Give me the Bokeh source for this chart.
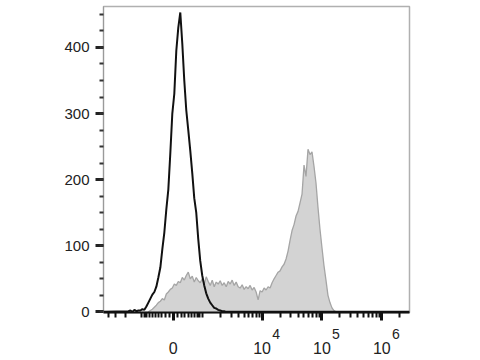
import numpy as np
from bokeh.plotting import figure
from bokeh.models import Range1d, FixedTicker, LinearAxis, SingleIntervalTicker
from bokeh.embed import file_html
from bokeh.resources import INLINE

# ---- biexponential (asinh) display scale: 1 display unit = 1 decade ----
LIN_WIDTH = 658.0
def biex(v):
    return np.round(np.arcsinh(np.asarray(v, dtype=float) / LIN_WIDTH) / np.log(10), 5)

# ---- data: histogram counts per display channel (30 channels / decade) ----
CH_STEP = 1.0 / 30.0
black_start = -0.75   # display position of first black bin
black_counts = [1, 2, 0, 3, 1, 2, 2, 4, 3, 8, 14, 20, 26, 30, 38, 52, 67, 95, 120, 155,
                185, 240, 300, 330, 395, 430, 453, 406, 350, 305, 275, 244, 210, 172, 150,
                110, 77, 55, 40, 28, 20, 14, 10, 6, 5, 3, 2, 1, 1, 0]

gray_start = -0.4167  # display position of first gray bin
gray_counts = [0, 2, 4, 7, 10, 14, 16, 20, 18, 27, 30, 34, 36, 42, 40, 46, 44, 52, 48, 55,
               60, 50, 54, 45, 52, 47, 44, 50, 42, 53, 46, 40, 48, 38, 45, 42, 47, 40, 44, 38,
               46, 42, 48, 40, 45, 38, 36, 41, 34, 38, 35, 40, 33, 37, 30, 18, 32, 30, 36, 33,
               38, 36, 44, 50, 55, 60, 62, 68, 72, 80, 92, 108, 123, 132, 145, 152, 165, 178,
               222, 205, 246, 238, 242, 220, 195, 158, 125, 97, 70, 48, 25, 14, 6, 2, 0, 0]

major_values = [0, 1e4, 1e5, 1e6]
major_labels = ["0", "10", "10", "10"]
major_exponents = ["", "4", "5", "6"]
minor_values = ([-4000, -3000, -2000, -1000]
                + [s * k * 100 for s in (-1, 1) for k in range(1, 10)]
                + [k * 1000 for k in range(2, 10)]
                + [k * 1e4 for k in range(2, 10)]
                + [k * 1e5 for k in range(2, 10)]
                + [2e6, 3e6])

x_min_val, x_max_val = -4800.0, 2.9e6
y_max = 462

# ---- build ----
bx = black_start + CH_STEP * np.arange(len(black_counts))
gx = gray_start + CH_STEP * np.arange(len(gray_counts))
x_lo, x_hi = float(biex(x_min_val)), float(biex(x_max_val))
bx_full = np.concatenate([[x_lo], bx, [x_hi]])
by_full = np.concatenate([[0], black_counts, [0]])

p = figure(width=480, height=360, output_backend="svg", toolbar_location=None,
           x_range=Range1d(x_lo, x_hi), y_range=Range1d(-1, y_max),
           x_axis_type=None, y_axis_type=None,
           min_border_left=103, min_border_right=71, min_border_top=6, min_border_bottom=48)
p.outline_line_color = "#b0b0b0"
p.outline_line_width = 1.5
p.background_fill_color = "white"
p.border_fill_color = "white"

p.varea(x=gx, y1=0, y2=gray_counts, fill_color="#d3d3d3")
p.line(x=gx, y=gray_counts, line_color="#a5a5a5", line_width=1.3)
p.line(x=bx_full, y=by_full, line_color="#111111", line_width=2)

major_pos = [float(v) for v in biex(major_values)]
minor_pos = [float(v) for v in biex(minor_values)]

# axis 1: line, ticks and the superscript exponents
xaxis = LinearAxis(ticker=FixedTicker(ticks=major_pos, minor_ticks=minor_pos))
xaxis.major_label_overrides = {pos: ("\u2003\u2003" + ex if ex else " ")
                               for pos, ex in zip(major_pos, major_exponents)}
xaxis.axis_line_color = "#111111"
xaxis.axis_line_width = 2
xaxis.major_tick_line_color = "#111111"
xaxis.major_tick_line_width = 3
xaxis.major_tick_out = 8
xaxis.major_tick_in = 0
xaxis.minor_tick_line_color = "#111111"
xaxis.minor_tick_line_width = 2
xaxis.minor_tick_out = 5
xaxis.minor_tick_in = 0
xaxis.major_label_text_font = "Liberation Sans"
xaxis.major_label_text_font_size = "14px"
xaxis.major_label_text_color = "#222222"
xaxis.major_label_standoff = 5
p.add_layout(xaxis, "below")

# axis 2: the decade base labels
xaxis2 = LinearAxis(ticker=FixedTicker(ticks=major_pos, minor_ticks=[]))
xaxis2.major_label_overrides = {pos: lab for pos, lab in zip(major_pos, major_labels)}
xaxis2.axis_line_color = None
xaxis2.major_tick_line_color = None
xaxis2.minor_tick_line_color = None
xaxis2.major_tick_out = 0
xaxis2.major_tick_in = 0
xaxis2.minor_tick_out = 0
xaxis2.minor_tick_in = 0
xaxis2.major_label_text_font = "Liberation Sans"
xaxis2.major_label_text_font_size = "16px"
xaxis2.major_label_text_color = "#222222"
xaxis2.major_label_standoff = -3
p.add_layout(xaxis2, "below")

yaxis = LinearAxis(ticker=SingleIntervalTicker(interval=100, num_minor_ticks=4))
yaxis.axis_line_color = "#9a9a9a"
yaxis.axis_line_width = 1
yaxis.major_tick_line_color = "#222222"
yaxis.major_tick_line_width = 3
yaxis.major_tick_out = 8
yaxis.major_tick_in = 0
yaxis.minor_tick_line_color = "#333333"
yaxis.minor_tick_line_width = 2
yaxis.minor_tick_out = 4
yaxis.minor_tick_in = 0
yaxis.major_label_text_font = "Liberation Sans"
yaxis.major_label_text_font_size = "15px"
yaxis.major_label_text_color = "#222222"
yaxis.major_label_standoff = 6
p.add_layout(yaxis, "left")

open("out.html", "w").write(file_html(p, INLINE))
